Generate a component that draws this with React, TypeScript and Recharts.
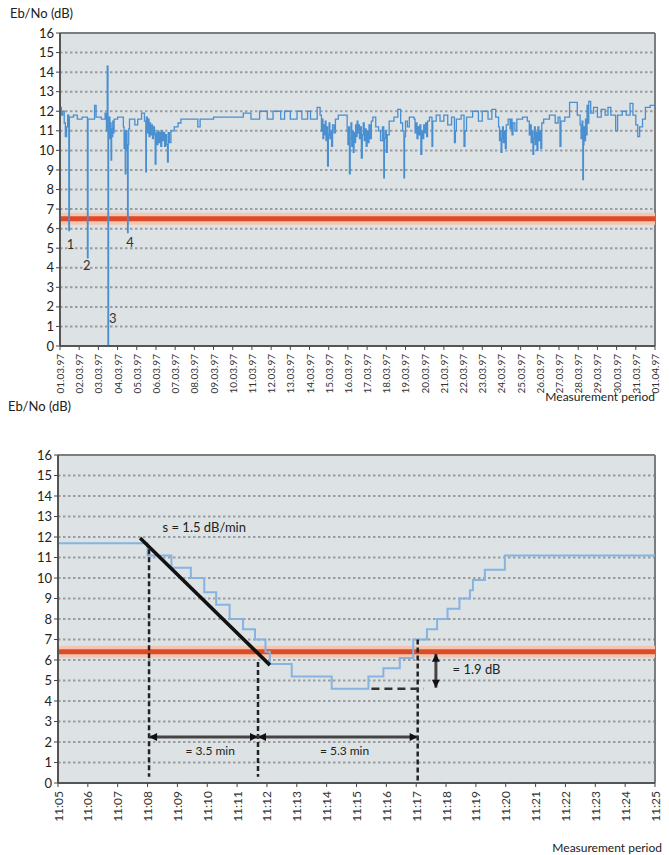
import { LineChart, Line, XAxis, YAxis, CartesianGrid, ReferenceLine, ReferenceDot } from "recharts";

const FONT = "Lato, 'Noto Sans', sans-serif";

const DB_TICKS = [0, 1, 2, 3, 4, 5, 6, 7, 8, 9, 10, 11, 12, 13, 14, 15, 16];

const DATE_LABELS = [
	"01.03.97", "02.03.97", "03.03.97", "04.03.97", "05.03.97", "06.03.97", "07.03.97", "08.03.97",
	"09.03.97", "10.03.97", "11.03.97", "12.03.97", "13.03.97", "14.03.97", "15.03.97", "16.03.97",
	"17.03.97", "18.03.97", "19.03.97", "20.03.97", "21.03.97", "22.03.97", "23.03.97", "24.03.97",
	"25.03.97", "26.03.97", "27.03.97", "28.03.97", "29.03.97", "30.03.97", "31.03.97", "01.04.97",
];
const DAY_TICKS = DATE_LABELS.map((_, i) => i);

const TIME_LABELS = [
	"11:05", "11:06", "11:07", "11:08", "11:09", "11:10", "11:11", "11:12", "11:13", "11:14", "11:15",
	"11:16", "11:17", "11:18", "11:19", "11:20", "11:21", "11:22", "11:23", "11:24", "11:25",
];
const MINUTE_TICKS = TIME_LABELS.map((_, i) => i);

// month of readings: [day offset from 01.03, Eb/No dB]
const MONTH_READINGS: [number, number][] = [
	[0.0, 12.2], [0.07, 11.8], [0.14, 12.0], [0.22, 11.4], [0.28, 10.7], [0.34, 11.2], [0.4, 11.8],
	[0.46, 5.9], [0.49, 11.7], [0.7, 11.8], [0.9, 11.6], [1.15, 11.7],
	[1.43, 4.5], [1.46, 11.6], [1.8, 12.3], [1.88, 11.7], [2.15, 11.6], [2.35, 11.9],
	[2.42, 11.0], [2.46, 14.3], [2.5, 0], [2.53, 10.8], [2.57, 11.7], [2.6, 10.6], [2.63, 11.4],
	[2.66, 9.5], [2.69, 11.1], [2.72, 10.7], [2.75, 11.5], [2.78, 10.9], [2.82, 11.6],
	[3.0, 11.7], [3.3, 11.2], [3.34, 10.1], [3.37, 11.0], [3.4, 8.8], [3.43, 10.2], [3.46, 11.0],
	[3.49, 10.0], [3.52, 5.8], [3.55, 10.3], [3.58, 11.1], [3.62, 11.6],
	[3.9, 11.3], [4.05, 11.6], [4.25, 11.9], [4.4, 11.5], [4.47, 8.9], [4.5, 11.7],
	[4.55, 10.9], [4.6, 11.6], [4.64, 10.7], [4.68, 11.4], [4.72, 10.8], [4.77, 11.3], [4.82, 10.6],
	[4.87, 11.2], [4.92, 10.8], [4.96, 9.3], [5.0, 10.9], [5.05, 10.3], [5.1, 11.0], [5.15, 10.4],
	[5.2, 10.9], [5.25, 10.2], [5.3, 11.0], [5.35, 10.5], [5.4, 10.9], [5.45, 10.2], [5.5, 10.8],
	[5.55, 10.3], [5.6, 9.4], [5.64, 10.9], [5.7, 10.4], [5.78, 11.0],
	[5.95, 11.2], [6.15, 11.4], [6.3, 11.6], [7.1, 11.6], [7.18, 11.2], [7.3, 11.6], [8.0, 11.7],
	[9.55, 11.9], [9.95, 11.6], [10.4, 12.0], [10.8, 11.6], [11.1, 12.0], [11.5, 11.6], [11.7, 12.0],
	[12.0, 11.6], [12.35, 12.0], [12.6, 11.6], [12.9, 12.0], [13.05, 11.6], [13.4, 12.2], [13.55, 11.8],
	[13.62, 11.0], [13.66, 11.6], [13.7, 10.6], [13.74, 11.3], [13.78, 10.8], [13.82, 11.5], [13.86, 10.5],
	[13.9, 11.2], [13.94, 9.2], [13.98, 10.8], [14.02, 11.4], [14.06, 10.6], [14.1, 11.0], [14.15, 10.2],
	[14.2, 11.3], [14.28, 10.9], [14.35, 11.6], [14.5, 11.8], [14.9, 11.8],
	[14.96, 11.0], [15.0, 10.3], [15.04, 11.2], [15.08, 8.8], [15.12, 10.6], [15.16, 11.4], [15.2, 10.2],
	[15.24, 11.0], [15.28, 9.9], [15.32, 10.9], [15.36, 10.4], [15.4, 11.3], [15.44, 10.7], [15.48, 11.5],
	[15.52, 10.9], [15.56, 11.3], [15.6, 10.6], [15.65, 11.2], [15.7, 9.6], [15.75, 10.8], [15.8, 11.4],
	[15.85, 10.5], [15.9, 11.1], [15.95, 10.2], [16.0, 11.0], [16.05, 10.4], [16.1, 11.3], [16.15, 10.6],
	[16.22, 11.5], [16.3, 11.7], [16.45, 11.2],
	[16.6, 11.0], [16.7, 10.5], [16.8, 11.2], [16.87, 8.6], [16.9, 10.6], [16.95, 11.0], [17.0, 9.9],
	[17.05, 10.8], [17.15, 11.5], [17.4, 11.7], [17.6, 12.1], [17.75, 11.4], [17.85, 11.0], [17.92, 8.6],
	[17.95, 10.7], [18.0, 11.5], [18.1, 11.2], [18.2, 11.7], [18.45, 11.6],
	[18.5, 10.9], [18.55, 11.4], [18.6, 10.6], [18.65, 11.2], [18.7, 10.8], [18.75, 11.3], [18.8, 9.8],
	[18.85, 11.0], [18.9, 10.6], [18.95, 11.3], [19.0, 10.9], [19.05, 11.4], [19.1, 10.7], [19.15, 11.5],
	[19.25, 11.7], [19.38, 10.2], [19.42, 11.5],
	[19.6, 11.8], [19.8, 11.5], [20.0, 11.8], [20.2, 11.3], [20.4, 11.7], [20.55, 10.4], [20.6, 11.0],
	[20.65, 11.6], [20.9, 11.8], [21.05, 10.2], [21.1, 11.0], [21.18, 11.7], [21.5, 12.0], [21.8, 11.5],
	[22.0, 12.0], [22.3, 11.6], [22.5, 12.1], [22.7, 11.7],
	[22.85, 11.2], [22.9, 10.5], [22.94, 11.0], [22.98, 9.9], [23.02, 10.6], [23.06, 11.2], [23.1, 10.4],
	[23.15, 11.0], [23.2, 10.1], [23.25, 11.3], [23.35, 11.6],
	[23.45, 11.1], [23.5, 11.6], [23.55, 10.8], [23.6, 11.4], [23.7, 11.0], [23.8, 11.6], [24.1, 11.7],
	[24.35, 11.5],
	[24.45, 10.8], [24.5, 11.3], [24.55, 10.4], [24.6, 11.0], [24.64, 9.8], [24.68, 10.6], [24.72, 11.2],
	[24.76, 10.3], [24.8, 10.9], [24.85, 10.0], [24.9, 11.2], [24.95, 10.5], [25.0, 11.0], [25.05, 10.1],
	[25.1, 11.4], [25.2, 11.6],
	[25.5, 11.8], [25.8, 11.4], [25.95, 11.7], [26.05, 10.2], [26.1, 11.5], [26.3, 11.7], [26.55, 12.45],
	[26.95, 11.8], [27.1, 11.3],
	[27.15, 10.6], [27.2, 11.5], [27.24, 8.5], [27.27, 10.3], [27.3, 11.2], [27.34, 10.5], [27.38, 11.6],
	[27.42, 10.8], [27.46, 12.3], [27.5, 11.4], [27.55, 12.5], [27.65, 11.9],
	[27.8, 12.2], [28.0, 11.7], [28.2, 12.1], [28.4, 11.8], [28.55, 12.2], [28.7, 11.8],
	[28.95, 11.0], [29.05, 11.8], [29.3, 12.0], [29.5, 11.8], [29.7, 12.4], [29.85, 11.8], [30.0, 11.3],
	[30.1, 10.7], [30.2, 11.2], [30.35, 11.6], [30.5, 12.2], [30.75, 12.3], [31.0, 12.2],
];

// outage events marked 1..4: [label, day, dB]
const OUTAGE_LABELS: [string, number, number][] = [
	["1", 0.55, 5.2],
	["2", 1.4, 4.1],
	["3", 2.75, 1.4],
	["4", 3.65, 5.3],
];

// detail of one fade: [minutes after 11:05, Eb/No dB]
const FADE_READINGS: [number, number][] = [
	[0, 11.7], [3.0, 11.1], [3.8, 10.5], [4.45, 10.0], [4.9, 9.3], [5.3, 8.7], [5.75, 8.0],
	[6.2, 7.5], [6.6, 7.0], [6.95, 6.4], [7.1, 5.8], [7.83, 5.2], [9.17, 4.6], [10.4, 5.2],
	[10.9, 5.6], [11.45, 6.1], [11.9, 7.0], [12.36, 7.5], [12.7, 8.0], [13.05, 8.5], [13.45, 9.0],
	[13.8, 9.4], [13.9, 9.9], [14.3, 10.4], [14.97, 11.1], [20, 11.1],
];

const THRESHOLD_MONTH = 6.5;
const THRESHOLD_FADE = 6.4;

// fade slope annotation
const SLOPE_START: [number, number] = [2.75, 11.95];
const SLOPE_END: [number, number] = [7.1, 5.75];
const FADE_START = 3.05;
const THRESHOLD_CROSS = 6.7;
const RECOVERY = 12.05;
const ARROW_LEVEL = 2.25;
const MIN_LEVEL = 4.6;

const monthData = MONTH_READINGS.map(([day, db]) => ({ day, db }));
const fadeData = FADE_READINGS.map(([minute, db]) => ({ minute, db }));

const DateTick = ({ x, y, payload }: any) => (
	<text
		x={x}
		y={y + 2}
		transform={`rotate(-90 ${x} ${y + 2})`}
		textAnchor='end'
		dominantBaseline='central'
		fontSize={10}
		fill='#333'
	>
		{DATE_LABELS[payload.value]}
	</text>
);

const TimeTick = ({ x, y, payload }: any) => (
	<text
		x={x}
		y={y + 2}
		transform={`rotate(-90 ${x} ${y + 2})`}
		textAnchor='end'
		dominantBaseline='central'
		fontSize={12}
		fill='#333'
	>
		{TIME_LABELS[payload.value]}
	</text>
);

const DimensionArrow = ({ x1, y1, x2, y2 }: any) => {
	const dx = x2 - x1;
	const dy = y2 - y1;
	const len = Math.sqrt(dx * dx + dy * dy) || 1;
	const ux = dx / len;
	const uy = dy / len;
	const h = 8;
	const w = 4;
	const head = (tx: number, ty: number, dir: number) => {
		const bx = tx - ux * h * dir;
		const by = ty - uy * h * dir;
		return `${tx},${ty} ${bx - uy * w},${by + ux * w} ${bx + uy * w},${by - ux * w}`;
	};
	return (
		<g>
			<line x1={x1} y1={y1} x2={x2} y2={y2} stroke='#444' strokeWidth={3} />
			<polygon points={head(x1, y1, -1)} fill='#111' />
			<polygon points={head(x2, y2, 1)} fill='#111' />
		</g>
	);
};

const gridProps = {
	vertical: false,
	fill: "#dde2e5",
	fillOpacity: 1,
	stroke: "#999ca0",
	strokeWidth: 2,
	strokeDasharray: "2.5 2.5",
};

const yAxisProps = {
	type: "number" as const,
	domain: [0, 16],
	ticks: DB_TICKS,
	interval: 0 as const,
	tick: { fontSize: 13, fill: "#222" },
	tickSize: 4,
	tickLine: { stroke: "#444" },
	axisLine: { stroke: "#555", strokeWidth: 2 },
};

const App = () => {
	return (
		<div
			style={{
				position: "absolute",
				left: 0,
				top: 0,
				width: 669,
				height: 855,
				fontFamily: FONT,
				color: "#222",
				background: "#fff",
			}}
		>
			<div style={{ position: "absolute", left: 10, top: 5, fontSize: 13 }}>Eb/No (dB)</div>
			<div style={{ position: "absolute", right: 14, top: 389, fontSize: 12 }}>Measurement period</div>
			<div style={{ position: "absolute", left: 8, top: 398, fontSize: 13 }}>Eb/No (dB)</div>
			<div style={{ position: "absolute", right: 7, top: 840, fontSize: 12 }}>Measurement period</div>

			<div style={{ position: "absolute", left: 0, top: 0 }}>
				<LineChart
					width={669}
					height={400}
					data={monthData}
					margin={{ top: 33, right: 14, left: 0, bottom: 4 }}
				>
					<CartesianGrid {...gridProps} />
					<XAxis
						dataKey='day'
						type='number'
						domain={[0, 31]}
						ticks={DAY_TICKS}
						interval={0}
						height={50}
						tick={<DateTick />}
						tickSize={4}
						tickLine={{ stroke: "#444" }}
						axisLine={{ stroke: "#555", strokeWidth: 2 }}
					/>
					<YAxis {...yAxisProps} width={60} />
					<ReferenceLine y={16} stroke='#7d7d7d' strokeWidth={2} />
					<ReferenceLine x={31} stroke='#7d7d7d' strokeWidth={2} />
					<ReferenceLine y={THRESHOLD_MONTH} stroke='#f4c6b1' strokeWidth={12} />
					<ReferenceLine y={THRESHOLD_MONTH} stroke='#de4b29' strokeWidth={5} />
					<Line
						type='stepAfter'
						dataKey='db'
						stroke='#4a8fd0'
						strokeWidth={1.3}
						dot={false}
						isAnimationActive={false}
					/>
					{OUTAGE_LABELS.map(([label, day, db]) => (
						<ReferenceDot
							key={label}
							x={day}
							y={db}
							r={0}
							fill='none'
							stroke='none'
							label={{ value: label, position: "center", fontSize: 13, fill: "#333" }}
						/>
					))}
				</LineChart>
			</div>

			<div style={{ position: "absolute", left: 0, top: 420 }}>
				<LineChart
					width={669}
					height={420}
					data={fadeData}
					margin={{ top: 35, right: 14, left: 0, bottom: 5 }}
				>
					<CartesianGrid {...gridProps} />
					<XAxis
						dataKey='minute'
						type='number'
						domain={[0, 20]}
						ticks={MINUTE_TICKS}
						interval={0}
						height={52}
						tick={<TimeTick />}
						tickSize={4}
						tickLine={{ stroke: "#444" }}
						axisLine={{ stroke: "#555", strokeWidth: 2 }}
					/>
					<YAxis {...yAxisProps} width={58} />
					<ReferenceLine y={16} stroke='#7d7d7d' strokeWidth={2} />
					<ReferenceLine x={20} stroke='#7d7d7d' strokeWidth={2} />
					<ReferenceLine y={THRESHOLD_FADE} stroke='#f4c6b1' strokeWidth={12} />
					<ReferenceLine y={THRESHOLD_FADE} stroke='#de4b29' strokeWidth={5} />
					<Line
						type='stepAfter'
						dataKey='db'
						stroke='#86b3e0'
						strokeWidth={2}
						dot={false}
						isAnimationActive={false}
					/>
					<ReferenceLine
						segment={[
							{ x: SLOPE_START[0], y: SLOPE_START[1] },
							{ x: SLOPE_END[0], y: SLOPE_END[1] },
						]}
						stroke='#111'
						strokeWidth={3.5}
					/>
					<ReferenceLine
						segment={[
							{ x: FADE_START, y: 11.4 },
							{ x: FADE_START, y: 0.3 },
						]}
						stroke='#222'
						strokeWidth={2.5}
						strokeDasharray='5 3'
					/>
					<ReferenceLine
						segment={[
							{ x: THRESHOLD_CROSS, y: 5.9 },
							{ x: THRESHOLD_CROSS, y: 0.3 },
						]}
						stroke='#222'
						strokeWidth={2.5}
						strokeDasharray='5 3'
					/>
					<ReferenceLine
						segment={[
							{ x: RECOVERY, y: 7.0 },
							{ x: RECOVERY, y: 0 },
						]}
						stroke='#222'
						strokeWidth={2.5}
						strokeDasharray='5 3'
					/>
					<ReferenceLine
						segment={[
							{ x: 10.5, y: MIN_LEVEL },
							{ x: 12.25, y: MIN_LEVEL },
						]}
						stroke='#333'
						strokeWidth={2.5}
						strokeDasharray='8 5'
					/>
					<ReferenceLine
						segment={[
							{ x: FADE_START, y: ARROW_LEVEL },
							{ x: THRESHOLD_CROSS, y: ARROW_LEVEL },
						]}
						shape={<DimensionArrow />}
					/>
					<ReferenceLine
						segment={[
							{ x: THRESHOLD_CROSS, y: ARROW_LEVEL },
							{ x: RECOVERY, y: ARROW_LEVEL },
						]}
						shape={<DimensionArrow />}
					/>
					<ReferenceLine
						segment={[
							{ x: 12.66, y: THRESHOLD_FADE - 0.1 },
							{ x: 12.66, y: MIN_LEVEL + 0.05 },
						]}
						shape={<DimensionArrow />}
					/>
					<ReferenceDot
						x={4.9}
						y={12.45}
						r={0}
						fill='none'
						stroke='none'
						label={{ value: "s = 1.5 dB/min", position: "center", fontSize: 13, fill: "#222" }}
					/>
					<ReferenceDot
						x={5.1}
						y={1.55}
						r={0}
						fill='none'
						stroke='none'
						label={{ value: "= 3.5 min", position: "center", fontSize: 12, fill: "#222" }}
					/>
					<ReferenceDot
						x={9.6}
						y={1.55}
						r={0}
						fill='none'
						stroke='none'
						label={{ value: "= 5.3 min", position: "center", fontSize: 12, fill: "#222" }}
					/>
					<ReferenceDot
						x={13.05}
						y={5.55}
						r={0}
						fill='none'
						stroke='none'
						label={{ value: "= 1.9 dB", position: "right", fontSize: 13, fill: "#222" }}
					/>
				</LineChart>
			</div>
		</div>
	);
};

export default App;
